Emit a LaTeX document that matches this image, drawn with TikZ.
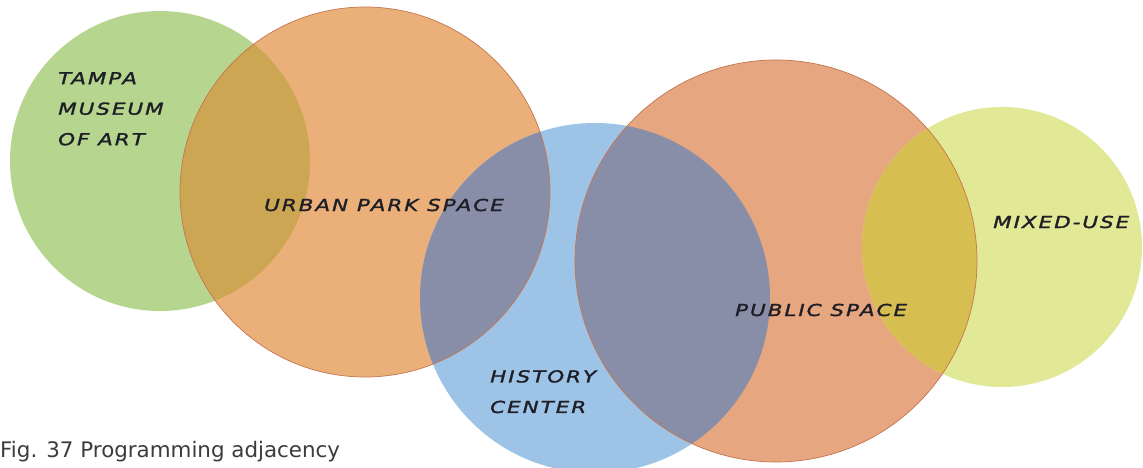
\documentclass[tikz,border=0pt]{standalone}
\usepackage{fontspec}
\setmainfont{DejaVu Sans}
\newfontfamily\zonefont[LetterSpace=12, FakeStretch=1.3, FakeBold=1.6]{DejaVu Sans}
\usepackage{tikz}

\definecolor{museumgreen}{RGB}{182,214,144}
\definecolor{parkorange}{RGB}{235,176,122}
\definecolor{historyblue}{RGB}{157,196,230}
\definecolor{publicorange}{RGB}{230,166,128}
\definecolor{mixedyellow}{RGB}{226,233,150}
\definecolor{museumpark}{RGB}{204,166,82}
\definecolor{slatemix}{RGB}{137,142,168}
\definecolor{mustardmix}{RGB}{214,190,80}
\definecolor{rimbrown}{RGB}{196,118,78}
\definecolor{labelink}{RGB}{30,30,38}
\definecolor{captiongray}{RGB}{60,60,60}

\begin{document}
\begin{tikzpicture}[x=1pt,y=-1pt]
\tikzset{zone/.style={circle, inner sep=0pt, outer sep=0pt},
  zonelabel/.style={font=\zonefont\itshape\fontsize{16.5}{30.5}\selectfont, text=labelink, inner sep=0pt, align=left},
  rim/.style={draw=rimbrown, line width=0.7pt}}
\useasboundingbox (0,0) rectangle (1143,468);
\fill[white] (0,0) rectangle (1143,468);
\node[zone, minimum size=300pt, fill=museumgreen] (M) at (160,161) {};
\node[zone, minimum size=370pt, fill=parkorange] (P) at (365,192) {};
\node[zone, minimum size=350pt, fill=historyblue] (H) at (595,298) {};
\node[zone, minimum size=402pt, fill=publicorange] (S) at (776,261) {};
\node[zone, minimum size=280pt, fill=mixedyellow] (X) at (1002,247) {};
\begin{scope}
\clip (M.center) circle[radius=150pt];
\fill[museumpark] (P.center) circle[radius=185pt];
\end{scope}
\begin{scope}
\clip (H.center) circle[radius=175pt];
\fill[slatemix] (P.center) circle[radius=185pt];
\fill[slatemix] (S.center) circle[radius=201pt];
\end{scope}
\begin{scope}
\clip (X.center) circle[radius=140pt];
\fill[mustardmix] (S.center) circle[radius=201pt];
\end{scope}
\draw[rim] (P.center) circle[radius=185pt];
\draw[rim] (S.center) circle[radius=201pt];
\node[zonelabel, anchor=north west] (tampa) at (58,72) {TAMPA\\MUSEUM\\OF ART};
\node[zonelabel, anchor=west] (park) at (264,205) {URBAN PARK SPACE};
\node[zonelabel, anchor=north west] (history) at (490,370) {HISTORY\\CENTER};
\node[zonelabel, anchor=west] (public) at (735,310) {PUBLIC SPACE};
\node[zonelabel, anchor=west] (mixed) at (993,222) {MIXED-USE};
\node[anchor=base west, inner sep=0pt, text=captiongray, font=\fontsize{21.4}{25}\selectfont] (caption) at (0,457) {Fig. 37 Programming adjacency};
\end{tikzpicture}
\end{document}
